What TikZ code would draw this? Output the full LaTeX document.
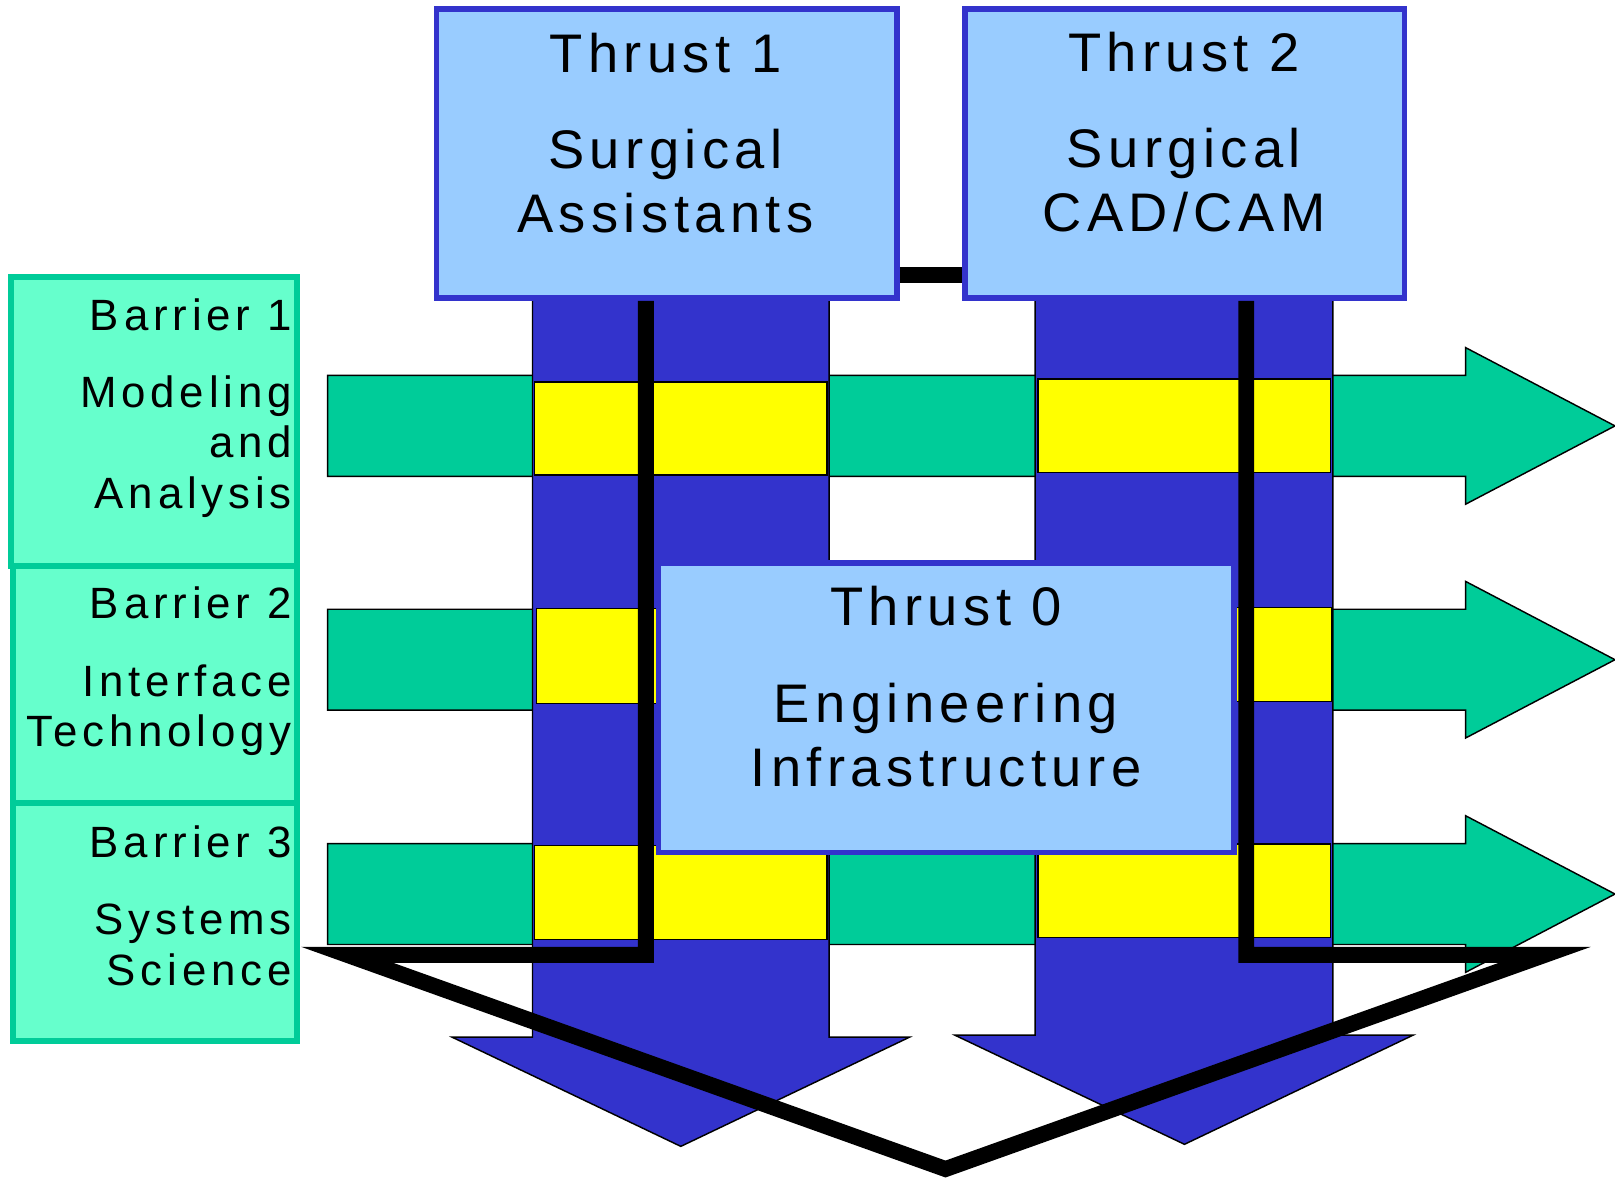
\documentclass[tikz,border=0pt]{standalone}
\usepackage{fontspec}
\setmainfont{Liberation Sans}
\newfontfamily\lab{Liberation Sans}[LetterSpace=10]
\newfontfamily\labb{Liberation Sans}[LetterSpace=11]
\definecolor{colblue}{HTML}{3333CC}
\definecolor{lightblue}{HTML}{99CCFF}
\definecolor{arrgreen}{HTML}{00CC99}
\definecolor{barfill}{HTML}{66FFCC}
\definecolor{yel}{HTML}{FFFF00}
\tikzset{
  thrustbox/.style={draw=colblue, fill=lightblue, line width=1.56pt, inner sep=0pt},
  barrierbox/.style={draw=arrgreen, fill=barfill, line width=1.6pt, inner sep=0pt},
  thrusttxt/.style={font=\lab\fontsize{15}{17.8}\selectfont, align=center, inner sep=0pt},
  barriertxt/.style={font=\labb\fontsize{12.1}{13.9}\selectfont, align=right, inner sep=0pt},
  garrow/.style={fill=arrgreen, draw=black, line width=0.4pt},
  barrow/.style={fill=colblue, draw=black, line width=0.4pt},
  yrect/.style={fill=yel, draw=black, line width=0.4pt},
  blk/.style={draw=black, line width=4.4pt},
}
\begin{document}
\begin{tikzpicture}[x=0.01cm, y=-0.01cm]
\useasboundingbox[fill=white] (0,0) rectangle (1568,1147);
% green barrier arrows
\foreach \c in {413.5,640.5,868}{
  \draw[garrow] (318,\c-49) -- (1423,\c-49) -- (1423,\c-76) -- (1568,\c)
    -- (1423,\c+76) -- (1423,\c+49) -- (318,\c+49) -- cycle;
}
% blue thrust arrows
\draw[barrow] (517,280) -- (517,1007) -- (439,1007) -- (661,1113) -- (883,1007)
  -- (805,1007) -- (805,280) -- cycle;
\draw[barrow] (1005,280) -- (1005,1005) -- (927,1005) -- (1150,1111) -- (1372,1005)
  -- (1294,1005) -- (1294,280) -- cycle;
% yellow crossings
\draw[yrect] (519,371) rectangle (803,461);
\draw[yrect] (1008,368) rectangle (1292,459);
\draw[yrect] (521,591) rectangle (638,683);
\draw[yrect] (1200,590) rectangle (1293,681);
\draw[yrect] (519,821) rectangle (803,912);
\draw[yrect] (1008,819.5) rectangle (1292,910);
% thrust boxes
\node[thrustbox, minimum width=5.585cm, minimum height=2.81cm] (t0) at (918.75,687) {};
\node[thrustbox, minimum width=4.467cm, minimum height=2.807cm] (t1) at (647.4,148.9) {};
\node[thrustbox, minimum width=4.266cm, minimum height=2.807cm] (t2) at (1150.3,148.9) {};
% connector between thrust 1 and thrust 2
\draw[blk] (t1.east |- 0,266.7) -- (t2.west |- 0,266.7);
% black L / V line
\coordinate (vl) at (337,927);
\coordinate (vb) at (918,1135);
\coordinate (vr) at (1500,927);
\draw[blk] (t1.south -| 627,0) -- (627,927) -- (vl) -- (vb) -- (vr) -- (1210,927) -- (t2.south -| 1210,0);
% barrier boxes
\node[barrierbox, minimum width=2.775cm, minimum height=2.805cm] (b1) at (149.75,409.25) {};
\node[barrierbox, minimum width=2.755cm, minimum height=2.305cm] (b2) at (150.75,664.75) {};
\node[barrierbox, minimum width=2.755cm, minimum height=2.305cm] (b3) at (150.75,895.25) {};
% texts
\node[thrusttxt, anchor=north] (t1txt) at (646,31.6) {Thrust 1\\[8.6pt]Surgical\\Assistants};
\node[thrusttxt, anchor=north] (t2txt) at (1149.5,30.6) {Thrust 2\\[8.6pt]Surgical\\CAD/CAM};
\node[thrusttxt, anchor=north] (t0txt) at (918.5,568.8) {Thrust 0\\[8.8pt]Engineering\\Infrastructure};
\node[barriertxt, anchor=north east] (b1txt) at (284,289.3) {Barrier 1\\[7.4pt]Modeling\\and\\Analysis};
\node[barriertxt, anchor=north east] (b2txt) at (284,569.3) {Barrier 2\\[7.4pt]Interface\\Technology};
\node[barriertxt, anchor=north east] (b3txt) at (284,801) {Barrier 3\\[7.4pt]Systems\\Science};
\end{tikzpicture}
\end{document}
